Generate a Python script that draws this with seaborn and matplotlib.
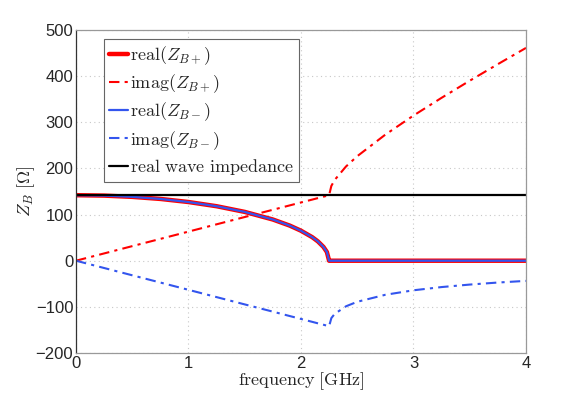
import numpy as np
import pandas as pd
import matplotlib
matplotlib.use('Agg')
import matplotlib.pyplot as plt
import seaborn as sns

# frequency samples [GHz] and values [Ohm]
freq = [0.0, 0.25, 0.5, 0.75, 1.0, 1.25, 1.5, 1.75, 1.9, 2.0, 2.1, 2.15, 2.2, 2.23, 2.25,
        2.27, 2.3, 2.4, 2.5, 2.75, 3.0, 3.25, 3.5, 3.75, 4.0]
real_plus = [142.0, 141.1, 138.4, 133.9, 127.2, 118.1, 105.8, 89.3, 76.1, 65.0, 51.0, 41.9, 29.8, 18.9, 0.0,
             0.0, 0.0, 0.0, 0.0, 0.0, 0.0, 0.0, 0.0, 0.0, 0.0]
imag_plus = [0.0, 15.8, 31.6, 47.3, 63.1, 78.9, 94.7, 110.4, 119.9, 126.2, 132.5, 135.7, 138.8, 140.7, 142.0,
             162.2, 175.2, 204.2, 226.5, 273.3, 314.6, 353.1, 390.1, 426.0, 461.2]
real_minus = list(real_plus)
imag_minus = [0.0, -15.8, -31.6, -47.3, -63.1, -78.9, -94.7, -110.4, -119.9, -126.2, -132.5, -135.7, -138.8, -140.7, -142.0,
              -124.3, -115.1, -98.8, -89.0, -73.8, -64.1, -57.1, -51.7, -47.3, -43.7]
wave_imp = [142.0] * len(freq)

df = pd.DataFrame({'f': freq, 'rp': real_plus, 'ip': imag_plus,
                   'rm': real_minus, 'im': imag_minus, 'z0': wave_imp})

sns.set_style('white')
plt.rcParams['mathtext.fontset'] = 'cm'
plt.rcParams['font.family'] = ['Liberation Sans', 'DejaVu Sans']

fig = plt.figure(figsize=(5.81, 3.96), dpi=100)
ax = fig.add_axes([0.1308, 0.1086, 0.7745, 0.8156])

red = '#ff0000'
blue = '#3355ee'
dashdot = (0, (5, 2.5, 1.5, 2.5))
sns.lineplot(data=df, x='f', y='rp', ax=ax, color=red, lw=3.2, label=r'$\mathrm{real}(Z_{B+})$')
sns.lineplot(data=df, x='f', y='ip', ax=ax, color=red, lw=1.5, ls=dashdot, label=r'$\mathrm{imag}(Z_{B+})$')
sns.lineplot(data=df, x='f', y='rm', ax=ax, color=blue, lw=1.6, label=r'$\mathrm{real}(Z_{B-})$')
sns.lineplot(data=df, x='f', y='im', ax=ax, color=blue, lw=1.5, ls=dashdot, label=r'$\mathrm{imag}(Z_{B-})$')
sns.lineplot(data=df, x='f', y='z0', ax=ax, color='black', lw=1.6, label=r'$\mathrm{real\ wave\ impedance}$')

ax.set_xlim(0, 4)
ax.set_ylim(-200, 500)
ax.set_xticks([0, 1, 2, 3, 4])
ax.set_yticks(range(-200, 501, 100))
ax.set_yticklabels(['\u2212200', '\u2212100', '0', '100', '200', '300', '400', '500'])
ax.tick_params(direction='in', labelsize=12, length=4, pad=2, color='#555555')
ax.grid(True, ls=(0, (1, 3)), color='#c8c8c8', lw=0.8)
for s in ax.spines.values():
    s.set_color('#999999')
    s.set_linewidth(0.9)
ax.spines['left'].set_color('#333333')

ax.set_xlabel(r'$\mathrm{frequency\ [GHz]}$', fontsize=13, labelpad=0)
ax.set_ylabel(r'$Z_B\ [\Omega]$', fontsize=13, labelpad=-1)

leg = ax.legend(loc='upper left', bbox_to_anchor=(0.062, 0.972), fontsize=13, handlelength=1.05,
                handletextpad=0.1, labelspacing=0.3, borderpad=0.3, fancybox=False,
                framealpha=1, edgecolor='#666666', borderaxespad=0.0)
leg.get_frame().set_linewidth(0.8)

fig.savefig('out.png', dpi=100)
